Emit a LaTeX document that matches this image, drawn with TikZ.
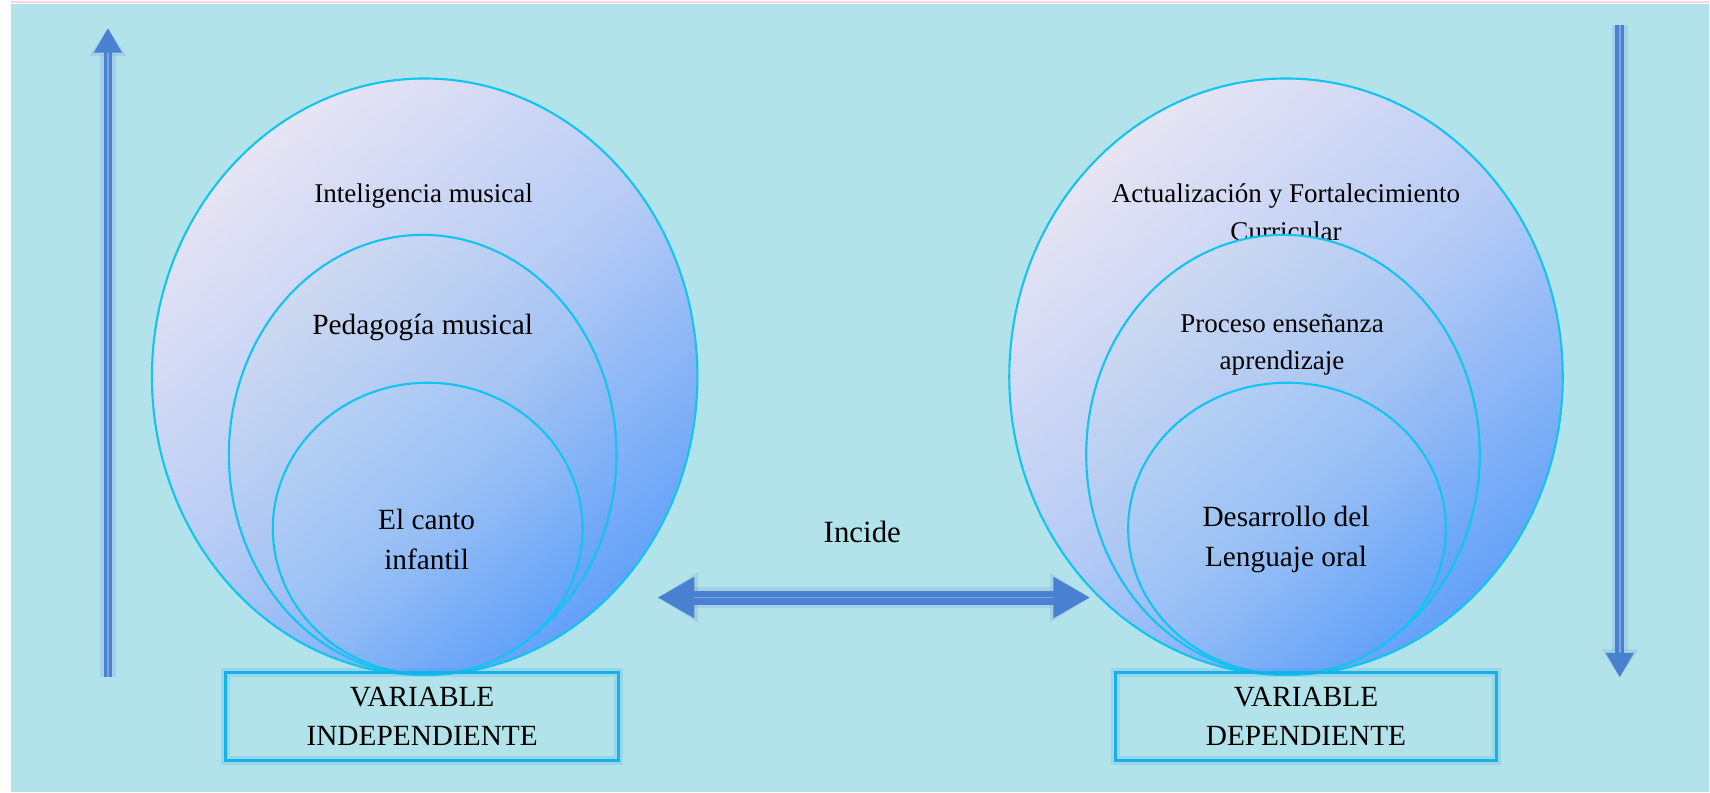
\documentclass[tikz,border=0pt]{standalone}
\usepackage{fontspec}
\setmainfont{Liberation Serif}
\usetikzlibrary{arrows.meta,shapes.geometric}

\definecolor{water}{RGB}{178,227,234}
\definecolor{edgepink}{RGB}{245,215,240}
\definecolor{lavend}{RGB}{231,228,244}
\definecolor{lavendB}{RGB}{206,217,241}
\definecolor{lavendC}{RGB}{182,208,244}
\definecolor{skyblue}{RGB}{100,162,248}
\definecolor{ringline}{RGB}{18,196,240}
\definecolor{arrowblue}{RGB}{74,128,208}
\definecolor{arrowlight}{RGB}{125,165,230}
\definecolor{boxline}{RGB}{22,176,234}

\begin{document}
\begin{tikzpicture}
[
	              x = 0.02cm,
	              y = -0.02cm,
	     ring/.style = { ellipse, draw=ringline, line width=1.2pt, inner sep=0pt,
	                     top color=#1, bottom color=skyblue, middle color=#1!62!skyblue,
	                     shading angle=40 },
	   txtA/.style = { font=\fontsize{15.4}{21.6}\selectfont, align=center, inner sep=0pt },
	   txtB/.style = { font=\fontsize{16.7}{22.8}\selectfont, align=center, inner sep=0pt },
	 varbox/.style = { draw=boxline, line width=1.6pt, align=center,
	                   minimum height=1.76cm, font=\fontsize{16.7}{22.2}\selectfont,
	                   preaction={draw=boxline!70!arrowblue, line width=5pt, opacity=.18} },
	   vbar/.style = { draw=arrowblue, line width=5pt, -{Triangle[length=14pt, width=15pt]},
	                   preaction={draw=arrowblue!70, line width=9pt, opacity=.3,
	                              -{Triangle[length=16pt, width=20pt]}} },
	   dbar/.style = { draw=arrowblue, line width=8pt,
	                   {Triangle[length=21pt, width=22pt]}-{Triangle[length=21pt, width=22pt]},
	                   preaction={draw=arrowblue!70, line width=12pt, opacity=.3,
	                              {Triangle[length=23pt, width=27pt]}-{Triangle[length=23pt, width=27pt]}} },
	  vcore/.style = { draw=arrowlight, line width=1pt }
]
	% background
	\fill[white] (0,0) rectangle (1710,793);
	\fill[water] (11,4) rectangle (1710,793);
	\draw[edgepink, line width=1.5pt] (11,2) -- (1710,2);
	\useasboundingbox (0,0) rectangle (1710,793);

	% side arrows
	\coordinate (upS) at (108,678);
	\coordinate (upT) at (108,28);
	\coordinate (dnS) at (1621,25);
	\coordinate (dnT) at (1621,678);
	\draw[vbar] (upS) -- (upT);
	\draw[vcore, shorten >=14pt] (upS) -- (upT);
	\draw[vbar] (dnS) -- (dnT);
	\draw[vcore, shorten >=14pt] (dnS) -- (dnT);

	% independent variable
	\node (outerL) at (425,377) [ring=lavend, minimum width=10.92cm, minimum height=11.94cm] {};
	\node (tIntel) at (424,196) [txtA] {Inteligencia musical};
	\node (midL)   at (423,455) [ring=lavendB, minimum width=7.76cm, minimum height=8.8cm] {};
	\node (tPedag) at (423,328) [txtB] {Pedagogía musical};
	\node (innL)   at (428,529) [ring=lavendC, minimum width=6.2cm, minimum height=5.84cm] {};
	\node (tCanto) at (427,540) [txtB] {El canto\\infantil};
	\node (varInd) at (422.5,717) [varbox, minimum width=7.86cm] {VARIABLE\\INDEPENDIENTE};

	% dependent variable
	\node (outerR)  at (1287,377) [ring=lavend, minimum width=11.08cm, minimum height=11.94cm] {};
	\node (tActual) at (1287,212) [txtA] {Actualización y Fortalecimiento\\Curricular};
	\node (midR)    at (1284,455) [ring=lavendB, minimum width=7.88cm, minimum height=8.8cm] {};
	\node (tProc)   at (1283,345) [txtA] {Proceso enseñanza\\aprendizaje};
	\node (innR)    at (1288,529) [ring=lavendC, minimum width=6.36cm, minimum height=5.84cm] {};
	\node (tDesa)   at (1287,540) [txtB] {Desarrollo del\\Lenguaje oral};
	\node (varDep)  at (1307,717) [varbox, minimum width=7.64cm] {VARIABLE\\DEPENDIENTE};

	% relation
	\coordinate (incL) at (658,598);
	\coordinate (incR) at (1091,598);
	\draw[dbar] (incL) -- (incR);
	\draw[vcore, shorten <=21pt, shorten >=21pt] (incL) -- (incR);
	\node (tInc) at (863,532) [font=\fontsize{17.6}{20}\selectfont] {Incide};
\end{tikzpicture}
\end{document}
